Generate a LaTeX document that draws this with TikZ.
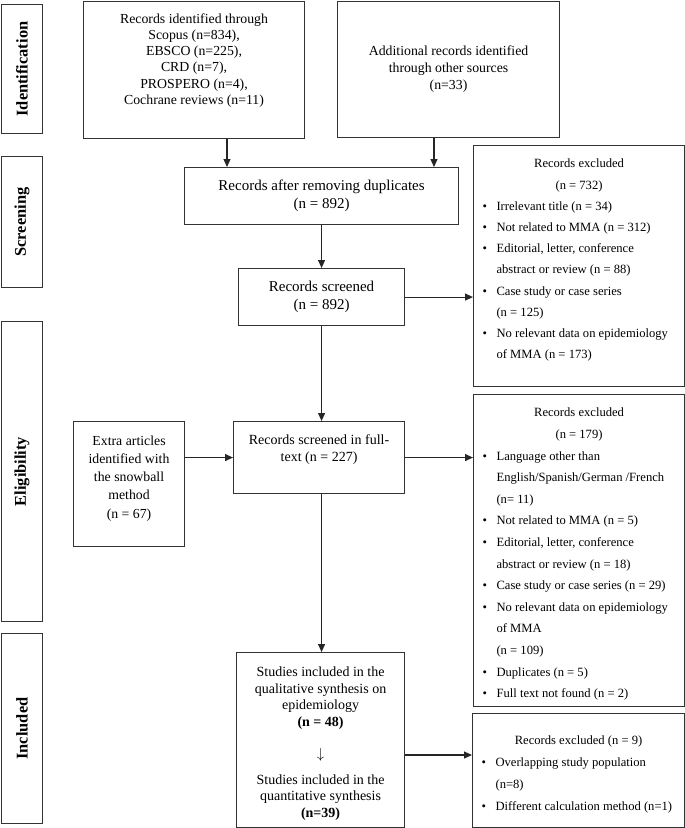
\documentclass[tikz,border=0pt]{standalone}
\usepackage{fontspec}
\setmainfont{Liberation Serif}
\usetikzlibrary{arrows.meta}
\newcommand{\fs}[2]{\fontsize{#1}{#2}\selectfont}
\newcommand{\bl}[1]{\par\hspace*{9pt}\makebox[14pt][l]{\textbullet}\mbox{#1}}
\newcommand{\cl}[1]{\par\hspace*{23pt}\mbox{#1}}
\newcommand{\ctr}[1]{\par\hbox to\linewidth{\hss #1\hss}}
\begin{document}
\begin{tikzpicture}[x=1pt,y=-1pt,
  box/.style={draw=black!80, line width=1.1pt, inner sep=0pt, anchor=north west},
  lbl/.style={box, minimum width=41pt, font=\fs{16.4}{18}\bfseries},
  arr/.style={draw=black!85, line width=1.1pt, -{Triangle[length=8pt,width=7pt]}}]
\useasboundingbox (0,0) rectangle (685,828);

% phase labels
\node[lbl, minimum height=129pt] (lid) at (1,4) {\rotatebox{90}{Identification}};
\node[lbl, minimum height=131pt] (lsc) at (1,156) {\rotatebox{90}{Screening}};
\node[lbl, minimum height=300pt] (lel) at (1,321) {\rotatebox{90}{Eligibility}};
\node[lbl, minimum height=190pt] (lin) at (1,633) {\rotatebox{90}{Included}};

% identification
\node[box] (src1) at (83,1) {\begin{minipage}[t][137pt][t]{221pt}\fs{13.8}{16.2}\centering
\rule{0pt}{21.8pt}Records identified through\\ Scopus (n=834),\\ EBSCO (n=225),\\ CRD (n=7),\\ PROSPERO (n=4),\\ Cochrane reviews (n=11)\end{minipage}};
\node[box, minimum width=222pt, minimum height=136pt, align=center, font=\fs{13.8}{17}] (src2) at (337,1)
  {Additional records identified\\ through other sources\\ (n=33)};

% screening
\node[box, minimum width=274pt, minimum height=57pt, align=center, font=\fs{15}{18}] (dup) at (184,167)
  {Records after removing duplicates\\ (n = 892)};
\node[box, minimum width=166pt, minimum height=57pt, align=center, font=\fs{15}{18}] (scr) at (238,268)
  {Records screened\\ (n = 892)};
\node[box] (ex1) at (473,145) {\begin{minipage}[t][241pt][t]{211pt}\fs{12.6}{21.2}\parskip0pt
\ctr{\rule{0pt}{22.4pt}Records excluded}
\ctr{(n = 732)}
\bl{Irrelevant title (n = 34)}
\bl{Not related to MMA (n = 312)}
\bl{Editorial, letter, conference}
\cl{abstract or review (n = 88)}
\bl{Case study or case series}
\cl{(n = 125)}
\bl{No relevant data on epidemiology}
\cl{of MMA (n = 173)}
\end{minipage}};

% eligibility
\node[box] (snow) at (73,421) {\begin{minipage}[t][125pt][t]{111pt}\fs{13.8}{18.2}\centering
\rule{0pt}{23.8pt}Extra articles\\ identified with\\ the snowball\\ method\\ (n = 67)\end{minipage}};
\node[box] (ft) at (233,421) {\begin{minipage}[t][72pt][t]{171pt}\fs{14}{17}\centering
\rule{0pt}{22.9pt}Records screened in full-\\ text (n = 227)\end{minipage}};
\node[box] (ex2) at (473,394) {\begin{minipage}[t][312pt][t]{211pt}\fs{12.6}{21.6}\parskip0pt
\ctr{\rule{0pt}{22.4pt}Records excluded}
\ctr{(n = 179)}
\bl{Language other than}
\cl{English/Spanish/German /French}
\cl{(n= 11)}
\bl{Not related to MMA (n = 5)}
\bl{Editorial, letter, conference}
\cl{abstract or review (n = 18)}
\bl{Case study or case series (n = 29)}
\bl{No relevant data on epidemiology}
\cl{of MMA}
\cl{(n = 109)}
\bl{Duplicates (n = 5)}
\bl{Full text not found (n = 2)}
\end{minipage}};

% included
\node[box] (inc) at (236,652) {\begin{minipage}[t][175pt][t]{168pt}\fs{14}{16.7}\centering
\rule{0pt}{24pt}Studies included in the\\ qualitative synthesis on\\ epidemiology\\ \textbf{(n = 48)}\\[15pt]
$\downarrow$\\[9pt] Studies included in the\\ quantitative synthesis\\ \textbf{(n=39)}\end{minipage}};
\node[box] (ex3) at (472,713) {\begin{minipage}[t][114pt][t]{212pt}\fs{12.6}{22}\parskip0pt
\ctr{\rule{0pt}{31.4pt}Records excluded (n = 9)}
\bl{Overlapping study population}
\cl{(n=8)}
\bl{Different calculation method (n=1)}
\end{minipage}};

% connectors
\coordinate (d1) at (227,167);
\coordinate (d2) at (434,167);
\coordinate (e3) at (472,755);
\draw[arr] (src1.south -| d1) -- (d1);
\draw[arr] (src2.south -| d2) -- (d2);
\draw[arr] (dup.south) -- (scr.north);
\draw[arr] (scr.east) -- (scr.east -| ex1.west);
\draw[arr] (scr.south) -- (scr.south |- ft.north);
\draw[arr] (ft.west -| snow.east) -- (ft.west);
\draw[arr] (ft.east) -- (ft.east -| ex2.west);
\draw[arr] (scr.south |- ft.south) -- (scr.south |- inc.north);
\draw[arr] (inc.east |- e3) -- (e3);
\end{tikzpicture}
\end{document}
